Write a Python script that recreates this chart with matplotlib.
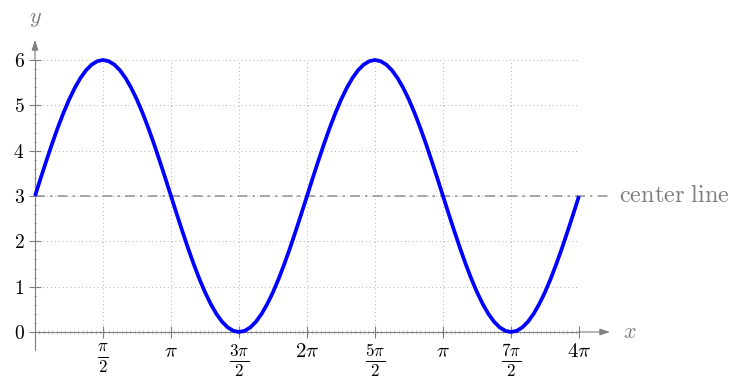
import numpy as np
import matplotlib
matplotlib.use("Agg")
import matplotlib.pyplot as plt
from matplotlib.ticker import MultipleLocator

plt.rcParams['mathtext.fontset'] = 'cm'
plt.rcParams['font.family'] = ['DejaVu Serif']

# curve samples every pi/24 over [0, 4pi]
x_steps = list(range(97))  # multiples of pi/24
y_values = [3.0, 3.392, 3.776, 4.148, 4.5, 4.826, 5.121, 5.380, 5.598, 5.772, 5.898, 5.974,
            6.0, 5.974, 5.898, 5.772, 5.598, 5.380, 5.121, 4.826, 4.5, 4.148, 3.776, 3.392,
            3.0, 2.608, 2.224, 1.852, 1.5, 1.174, 0.879, 0.620, 0.402, 0.228, 0.102, 0.026,
            0.0, 0.026, 0.102, 0.228, 0.402, 0.620, 0.879, 1.174, 1.5, 1.852, 2.224, 2.608,
            3.0, 3.392, 3.776, 4.148, 4.5, 4.826, 5.121, 5.380, 5.598, 5.772, 5.898, 5.974,
            6.0, 5.974, 5.898, 5.772, 5.598, 5.380, 5.121, 4.826, 4.5, 4.148, 3.776, 3.392,
            3.0, 2.608, 2.224, 1.852, 1.5, 1.174, 0.879, 0.620, 0.402, 0.228, 0.102, 0.026,
            0.0, 0.026, 0.102, 0.228, 0.402, 0.620, 0.879, 1.174, 1.5, 1.852, 2.224, 2.608,
            3.0]
x_tick_mult = [1, 2, 3, 4, 5, 6, 7, 8]  # multiples of pi/2
x_tick_labels = [r'$\frac{\pi}{2}$', r'$\pi$', r'$\frac{3\pi}{2}$', r'$2\pi$',
                 r'$\frac{5\pi}{2}$', r'$\pi$', r'$\frac{7\pi}{2}$', r'$4\pi$']
y_ticks = [0, 1, 2, 3, 4, 5, 6]
center_value = 3

W, H = 732, 381
fig = plt.figure(figsize=(W/100, H/100), dpi=100)
x0p, x1p = 35, 579
y0p, y1p = 332, 60
ax = fig.add_axes([x0p/W, 1 - y0p/H, (x1p-x0p)/W, (y0p-y1p)/H])

X = np.array(x_steps) * np.pi / 24
ax.set_xlim(0, 4*np.pi)
ax.set_ylim(0, 6)

gray = '#7f7f7f'
ax.set_xticks([m*np.pi/2 for m in x_tick_mult])
ax.set_xticklabels(x_tick_labels)
ax.set_yticks(y_ticks)
ax.set_yticklabels([f'${v}$' for v in y_ticks])
ax.xaxis.set_minor_locator(MultipleLocator(0.1))
ax.yaxis.set_minor_locator(MultipleLocator(0.2))
ax.grid(True, which='major', color='#b0b0b0', linestyle=(0, (1, 3)), linewidth=0.7)
ax.tick_params(which='major', direction='inout', length=9, width=0.8, color=gray,
               labelsize=14, pad=3)
ax.tick_params(which='minor', direction='inout', length=3, width=0.4, color='#aaaaaa')
ax.tick_params(axis='x', labelsize=15)
for lab in ax.get_xticklabels():
    if 'frac' in lab.get_text():
        lab.set_fontsize(17.5)

for s in ['top', 'right']:
    ax.spines[s].set_visible(False)
for s in ['bottom', 'left']:
    ax.spines[s].set_color(gray)
    ax.spines[s].set_linewidth(0.8)

dx = (np.pi/2) / (x1p - x0p) * 8
dy = 6 / (y0p - y1p)

xend = 4*np.pi + (610 - x1p) * dx
ax.annotate('', xy=(xend, 0), xytext=(4*np.pi - 0.01, 0), annotation_clip=False,
            arrowprops=dict(arrowstyle='-|>,head_length=0.6,head_width=0.2', color=gray, lw=0.8,
                            shrinkA=0, shrinkB=0))
ytop = 6 + (y1p - 40) * dy
ax.annotate('', xy=(0, ytop), xytext=(0, 5.99), annotation_clip=False,
            arrowprops=dict(arrowstyle='-|>,head_length=0.6,head_width=0.2', color=gray, lw=0.8,
                            shrinkA=0, shrinkB=0))
ax.plot([0, 0], [0, -(350 - y0p) * dy], color=gray, lw=0.8, clip_on=False)

ax.text(xend + (625 - 610) * dx - 0.05, 0, r'$x$', color=gray, fontsize=16, va='center', ha='left')
ax.text(0, 6 + (y1p - 18) * dy, r'$y$', color=gray, fontsize=16, va='center', ha='center')

ax.plot([0, xend], [center_value, center_value], color='#999999', lw=1.2,
        linestyle=(0, (6, 3, 1.5, 3)), clip_on=False, zorder=2)
ax.text(4*np.pi + (619 - x1p) * dx, center_value, r'$\mathrm{center\ line}$', color=gray,
        fontsize=17.5, va='center', ha='left')

ax.plot(X, y_values, color='#0000ff', lw=2.7, clip_on=False, zorder=3,
        solid_joinstyle='round', solid_capstyle='butt')

fig.savefig('out.png', dpi=100)
